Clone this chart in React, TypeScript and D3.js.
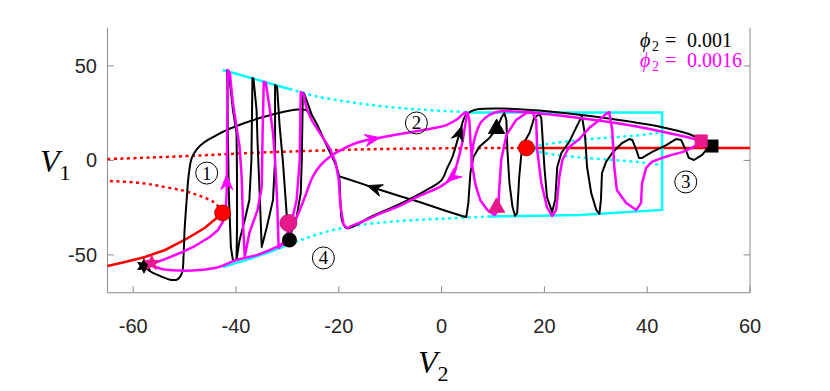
import React from "react";
import * as d3 from "d3";

type P = [number, number];

const W = 830;
const H = 391;
const xDomain: P = [-65, 60];
const yDomain: P = [-70, 70];
const xTicks = [-60, -40, -20, 0, 20, 40, 60];
const yTicks = [-50, 0, 50];

// equilibrium branches (red)
const redStableLow: P[] = [[-65, -55.9], [-61.6, -53.8], [-57.7, -51.1], [-53.8, -47.4], [-50.0, -42.1], [-46.1, -35.8], [-42.6, -27.8]];
const redUnstableLow: P[] = [[-42.6, -27.3], [-44.1, -22.5], [-47.0, -18.8], [-50.0, -16.2], [-53.8, -14.1], [-58.7, -11.9], [-65, -10.9]];
const redUnstableMid: P[] = [[-65, 0.7], [-56.8, 1.5], [-47.1, 2.6], [-37.4, 3.9], [-29.6, 4.7], [-19.9, 5.5], [-12.1, 6.0], [1.5, 6.4], [16.5, 6.6]];
const redStableHigh: P[] = [[16.5, 6.6], [60, 6.6]];
const bifPoints: P[] = [[-42.6, -27.8], [16.5, 6.6]];

// periodic orbit envelopes (cyan)
const cyanMaxSolid: P[] = [[-42.6, 47.8], [-37.4, 43.9], [-33.4, 40.7], [-29.6, 37.8]];
const cyanMaxDotted: P[] = [[-29.6, 37.8], [-23.7, 33.5], [-17.9, 30.9], [-12.1, 28.8], [-4.3, 26.9], [4.8, 25.6]];
const cyanMinSolid: P[] = [[-42.6, -56.4], [-37.4, -52.1], [-30.9, -45.8]];
const cyanMinDotted: P[] = [[-30.9, -45.8], [-27.6, -42.3], [-21.8, -37.3], [-16.0, -34.2], [-8.2, -32.1], [-0.4, -30.9], [9.3, -29.7]];
const cyanBox: P[] = [[5.0, 25.4], [42.9, 25.4], [42.9, -26.2], [26.8, -28.9], [9.3, -29.7]];
const cyanInnerUpper: P[] = [[16.5, 6.6], [20.0, 8.4], [26.8, 10.8], [34.5, 12.4], [39.4, 13.6], [42.8, 15.0]];
const cyanInnerLower: P[] = [[16.5, 6.6], [20.0, 3.9], [26.8, 1.6], [34.5, 0.0], [39.4, -1.2], [42.8, -2.5]];

// phi2 = 0.001 trajectory (black)
const blackLoop: P[] = [[-57.9, -55.9], [-56.8, -58.5], [-54.8, -61.1], [-52.5, -63.3], [-51.3, -62.8], [-50.5, -59.5], [-50.2, -50.1], [-50.0, -36.8], [-49.6, -20.9], [-49.2, -7.7], [-48.6, 1.3], [-47.6, 6.0], [-46.1, 9.7], [-44.1, 12.9], [-41.8, 16.1], [-38.3, 19.8], [-35.4, 22.4], [-30.9, 25.6], [-28.0, 26.9], [-26.5, 26.7], [-25.3, 24.0], [-23.9, 17.1], [-22.4, 8.1], [-21.0, 0.2], [-20.0, -7.7], [-19.7, -20.9], [-19.3, -32.6], [-18.5, -35.8], [-17.0, -34.7], [-14.0, -30.2], [-8.2, -23.1], [-3.3, -16.2], [0.0, -10.4], [1.1, -4.0], [2.1, 1.8], [3.5, 14.5], [4.6, 23.5], [5.8, 26.1], [7.3, 27.2], [11.2, 27.5], [19.0, 26.4], [27.3, 24.0], [34.5, 21.4], [42.7, 17.7], [48.1, 14.0], [51.6, 9.7]];
const blackOsc: P[] = [[52.6, 7.6], [51.6, 6.0], [50.7, 2.9], [49.1, 0.2], [48.1, 1.3], [47.5, 5.5], [46.6, 10.8], [45.6, 11.3], [43.7, 8.1], [40.9, 4.4], [39.0, 1.3], [38.4, 1.3], [37.9, 5.5], [37.1, 10.8], [36.5, 11.3], [35.1, 9.2], [33.2, 3.9], [32.0, -0.8], [31.2, -6.7], [31.0, -20.9], [30.7, -28.3], [30.1, -26.2], [29.1, -17.2], [28.3, -3.5], [27.9, 13.4], [27.3, 23.5], [26.8, 20.8], [24.8, 9.7], [23.3, 3.9], [22.5, -3.5], [22.1, -20.9], [21.5, -27.3], [20.5, -19.4], [20.0, -3.5], [19.4, 22.4], [19.0, 24.6], [18.0, 22.4], [17.1, 14.5], [16.1, 9.7], [15.5, 2.9], [15.1, -8.8], [14.7, -27.8], [14.3, -29.4], [13.8, -24.7], [13.2, -12.0], [12.8, 5.5], [12.6, 21.4], [12.2, 25.1], [11.6, 22.4], [10.8, 17.1], [9.3, 11.9], [7.3, 7.1], [6.2, 1.8], [5.6, -6.7], [5.2, -22.5], [4.8, -29.9], [4.0, -29.4], [0.9, -26.8], [-4.3, -22.0], [-8.2, -18.8], [-13.1, -14.6], [-16.0, -11.9], [-18.9, -9.3], [-20.0, -8.3]];
const blackSpikes: P[] = [[-40.6, -52.7], [-41.0, -45.8], [-41.4, -17.2], [-41.6, 17.7], [-41.7, 47.8], [-41.4, 46.8], [-40.6, 26.7], [-39.9, 14.5], [-39.8, -8.8], [-39.8, -35.2], [-39.9, -52.7], [-39.3, -42.1], [-38.3, -31.5], [-37.4, -20.9], [-37.0, 0.2], [-36.8, 43.6], [-36.6, 43.1], [-36.0, 26.7], [-35.8, 9.2], [-35.4, -17.2], [-35.0, -45.8], [-34.0, -35.2], [-32.8, -20.9], [-32.4, 0.2], [-32.4, 39.9], [-32.0, 38.8], [-31.5, 17.7], [-30.9, 0.2], [-30.2, -26.2], [-29.8, -40.5], [-29.2, -37.9], [-28.2, -29.9], [-27.4, -17.2], [-27.2, 0.2], [-27.0, 35.7], [-26.7, 35.1], [-26.1, 30.4], [-25.1, 23.0]];

// phi2 = 0.0016 trajectory (magenta)
const magentaSpikes: P[] = [[-56.4, -54.8], [-53.8, -52.2], [-50.9, -49.0], [-48.0, -45.3], [-45.1, -40.5], [-43.5, -36.8], [-42.6, -32.6], [-42.0, -27.3], [-41.8, -15.7], [-41.7, 21.4], [-41.6, 47.8], [-41.2, 46.2], [-40.6, 30.4], [-39.9, 17.7], [-39.3, 7.1], [-38.9, -8.8], [-38.6, -35.2], [-38.3, -51.1], [-37.4, -38.4], [-35.8, -26.2], [-35.0, -14.1], [-34.8, 17.7], [-34.6, 41.5], [-34.2, 41.0], [-33.4, 26.7], [-32.8, 14.5], [-32.4, 0.2], [-32.0, -20.9], [-31.7, -46.3], [-30.5, -42.1], [-29.2, -32.6], [-28.2, -20.9], [-27.6, 0.2], [-27.4, 36.2], [-26.8, 34.6], [-26.3, 27.7], [-25.3, 21.4], [-24.3, 17.1], [-22.8, 10.8], [-21.6, 5.5], [-20.6, -1.4], [-20.0, -10.4], [-19.7, -23.6], [-19.1, -33.6], [-18.5, -35.8]];
const magentaBottom: P[] = [[-56.4, -54.8], [-54.8, -57.2], [-50.9, -58.3], [-47.0, -58.0], [-43.7, -56.7], [-39.9, -52.7], [-36.0, -50.1], [-32.1, -45.8], [-30.1, -43.2], [-29.4, -37.9], [-28.4, -31.5], [-27.2, -23.6], [-26.3, -17.2], [-25.1, -8.8], [-23.7, -3.0], [-21.8, 1.8], [-19.9, 5.0], [-16.6, 9.2], [-13.4, 11.3], [-9.2, 13.4], [-5.7, 15.0], [-1.4, 17.1], [0.9, 18.7], [3.1, 21.9], [4.2, 24.6], [5.0, 25.6]];
const magentaReturn: P[] = [[5.0, 25.6], [4.6, 18.7], [4.0, 9.2], [3.1, -0.8], [2.1, -8.8], [0.0, -13.5], [-4.3, -18.8], [-8.2, -24.1], [-12.1, -28.3], [-15.6, -32.6], [-17.9, -35.2], [-18.5, -36.3]];
const magentaTop: P[] = [[5.8, -4.0], [6.0, 5.5], [6.6, 13.4], [7.7, 20.3], [9.3, 24.0], [11.2, 25.9], [17.1, 25.3], [26.8, 22.4], [34.5, 19.5], [42.3, 15.6], [48.1, 12.1], [50.3, 10.3]];
const magentaOsc: P[] = [[5.0, 25.6], [5.4, 21.4], [5.6, 10.8], [6.0, -3.5], [6.6, -13.0], [7.5, -20.9], [8.9, -26.2], [10.3, -28.9], [11.0, -26.7], [11.2, -15.7], [11.6, 0.2], [12.6, 13.4], [14.5, 21.4], [16.5, 25.1], [17.6, 25.6], [18.4, 21.4], [18.6, 5.5], [19.4, -12.0], [20.5, -24.7], [21.5, -29.4], [22.3, -26.2], [22.9, -8.8], [23.5, 0.2], [24.8, 7.1], [26.8, 11.3], [28.7, 17.1], [30.7, 21.4], [32.0, 24.6], [32.6, 25.6], [33.2, 16.1], [33.6, -3.5], [34.1, -15.7], [35.9, -22.5], [37.9, -26.2], [38.8, -22.5], [39.0, -12.0], [39.8, -4.0], [40.9, -0.8], [42.9, 1.3], [44.8, 2.9], [46.8, 4.4], [48.7, 6.6], [50.1, 9.2]];

// markers
const blackStar: P = [-57.9, -55.9];
const magentaStar: P = [-56.4, -54.3];
const magentaCircle: P = [-29.8, -33.1];
const blackCircle: P = [-29.6, -42.1];
const blackTriangle: P = [10.7, 17.1];
const magentaTriangle: P = [10.7, -24.6];
const magentaSquare: P = [50.5, 10.3];
const blackSquare: P = [52.6, 7.6];

// direction arrows: [from, to]
const magentaArrows: [P, P][] = [
  [[-41.8, -11.5], [-41.8, 0]],
  [[-13.4, 11.3], [-9.2, 13.4]],
  [[2.1, -8.8], [0.0, -13.5]],
];
const blackArrows: [P, P][] = [
  [[3.5, 14.5], [4.6, 23.5]],
  [[-13.1, -14.6], [-16.0, -11.9]],
];

// region labels
const regionLabels: { t: string; p: P }[] = [
  { t: "1", p: [-45.7, -6.7] },
  { t: "2", p: [-4.9, 19.8] },
  { t: "3", p: [47.5, -11.4] },
  { t: "4", p: [-23.0, -51.6] },
];

const MAG = "#ff00ff";
const MAGM = "#e8198c";

function starPath(n: number, r: number, ratio: number) {
  const pts: string[] = [];
  for (let i = 0; i < 2 * n; i++) {
    const a = -Math.PI / 2 + (i * Math.PI) / n;
    const rr = i % 2 === 0 ? r : r * ratio;
    pts.push(`${(rr * Math.cos(a)).toFixed(2)},${(rr * Math.sin(a)).toFixed(2)}`);
  }
  return "M" + pts.join("L") + "Z";
}

export default function App() {
  const x = d3.scaleLinear().domain(xDomain).range([107.5, 750]);
  const y = d3.scaleLinear().domain(yDomain).range([292.7, 28.1]);
  const line = d3
    .line<P>()
    .x((d) => x(d[0]))
    .y((d) => y(d[1]))
    .curve(d3.curveCatmullRom.alpha(0.5));
  const lin = d3
    .line<P>()
    .x((d) => x(d[0]))
    .y((d) => y(d[1]));

  const arrow = (a: P, b: P, color: string, key: string) => {
    const px = x(a[0]), py = y(a[1]);
    const dx = x(b[0]) - px, dy = y(b[1]) - py;
    const L = Math.hypot(dx, dy);
    const ux = dx / L, uy = dy / L, nx = -uy, ny = ux;
    const len = 15, hw = 6, notch = 5;
    const tip = [px + ux * len * 0.5, py + uy * len * 0.5];
    const bx = px - ux * len * 0.5, by = py - uy * len * 0.5;
    const d = `M${tip[0]},${tip[1]}L${bx + nx * hw},${by + ny * hw}L${bx + ux * notch},${by + uy * notch}L${bx - nx * hw},${by - ny * hw}Z`;
    return <path key={key} d={d} fill={color} stroke={color} strokeWidth={1} strokeLinejoin="miter" />;
  };

  const axisColor = "#8c8c8c";
  const tickFont = "'Liberation Sans', Arial, Helvetica, sans-serif";
  const serif = "'Liberation Serif', 'DejaVu Serif', serif";

  const tri = (p: P, fill: string) => {
    const cx = x(p[0]), cy = y(p[1]);
    const s = 9;
    return <path d={`M${cx},${cy - s}L${cx + s * 0.9},${cy + s * 0.6}L${cx - s * 0.9},${cy + s * 0.6}Z`} fill={fill} stroke={fill} strokeWidth={1} />;
  };

  return (
    <svg width={W} height={H} style={{ position: "absolute", left: 0, top: 0, background: "#fff" }} xmlns="http://www.w3.org/2000/svg">
      <rect width={W} height={H} fill="#fff" />
      {/* axes */}
      <g stroke={axisColor} strokeWidth={1} fill="none">
        <line x1={107.5} y1={y(70)} x2={107.5} y2={292.7} />
        <line x1={750} y1={y(70)} x2={750} y2={292.7} />
        <line x1={107.5} y1={292.7} x2={750} y2={292.7} />
        {xTicks.map((t) => (
          <line key={"xt" + t} x1={x(t)} x2={x(t)} y1={292.7} y2={286.3} />
        ))}
        {yTicks.map((t) => (
          <line key={"yl" + t} x1={107.5} x2={113.9} y1={y(t)} y2={y(t)} />
        ))}
        {yTicks.map((t) => (
          <line key={"yr" + t} x1={750} x2={743.6} y1={y(t)} y2={y(t)} />
        ))}
      </g>
      <g fill="#262626" fontFamily={tickFont} fontSize={20}>
        {xTicks.map((t) => (
          <text key={"xl" + t} x={x(t)} y={333} textAnchor="middle">
            {t < 0 ? "-" + Math.abs(t) : String(t)}
          </text>
        ))}
        {yTicks.map((t) => (
          <text key={"ylb" + t} x={97} y={y(t) + 7} textAnchor="end">
            {t < 0 ? "-" + Math.abs(t) : String(t)}
          </text>
        ))}
      </g>
      {/* axis titles */}
      <text x={40} y={172} fontFamily={serif} fontSize={32} fill="#000">
        <tspan fontStyle="italic">V</tspan>
        <tspan fontSize={22} dy={8}>1</tspan>
      </text>
      <text x={418} y={373} fontFamily={serif} fontSize={32} fill="#000">
        <tspan fontStyle="italic">V</tspan>
        <tspan fontSize={22} dy={8}>2</tspan>
      </text>

      {/* equilibria */}
      <path d={lin(redStableLow)!} fill="none" stroke="#ff0000" strokeWidth={2.5} />
      <path d={line(redUnstableLow)!} fill="none" stroke="#ff0000" strokeWidth={2.5} strokeDasharray="3 3.5" />
      <path d={line(redUnstableMid)!} fill="none" stroke="#ff0000" strokeWidth={2.5} strokeDasharray="3 3.5" />
      <path d={lin(redStableHigh)!} fill="none" stroke="#ff0000" strokeWidth={2.5} />

      {/* periodic orbits */}
      <path d={line(cyanMaxSolid)!} fill="none" stroke="#00ffff" strokeWidth={2.5} />
      <path d={line(cyanMaxDotted)!} fill="none" stroke="#00ffff" strokeWidth={2.5} strokeDasharray="3 3.5" />
      <path d={line(cyanMinSolid)!} fill="none" stroke="#00ffff" strokeWidth={2.5} />
      <path d={line(cyanMinDotted)!} fill="none" stroke="#00ffff" strokeWidth={2.5} strokeDasharray="3 3.5" />
      <path d={lin(cyanBox)!} fill="none" stroke="#00ffff" strokeWidth={2.5} />
      <path d={line(cyanInnerUpper)!} fill="none" stroke="#00ffff" strokeWidth={2.5} strokeDasharray="3 3.5" />
      <path d={line(cyanInnerLower)!} fill="none" stroke="#00ffff" strokeWidth={2.5} strokeDasharray="3 3.5" />

      {/* black trajectory */}
      <g fill="none" stroke="#000" strokeWidth={2} strokeLinejoin="round">
        <path d={line(blackLoop)!} />
        <path d={lin(blackOsc)!} />
        <path d={lin(blackSpikes)!} />
      </g>
      {/* magenta trajectory */}
      <g fill="none" stroke={MAG} strokeWidth={2.5} strokeLinejoin="round">
        <path d={lin(magentaSpikes)!} />
        <path d={line(magentaBottom)!} />
        <path d={line(magentaReturn)!} />
        <path d={line(magentaTop)!} />
        <path d={lin(magentaOsc)!} />
      </g>

      {blackArrows.map((a, i) => arrow(a[0], a[1], "#000", "ba" + i))}
      {magentaArrows.map((a, i) => arrow(a[0], a[1], MAG, "ma" + i))}

      {/* markers */}
      {bifPoints.map((p, i) => (
        <circle key={"bp" + i} cx={x(p[0])} cy={y(p[1])} r={8} fill="#ff0000" stroke="#a00000" strokeWidth={0.8} />
      ))}
      <circle cx={x(blackCircle[0])} cy={y(blackCircle[1])} r={7.5} fill="#000" />
      <circle cx={x(magentaCircle[0])} cy={y(magentaCircle[1])} r={8.5} fill={MAGM} stroke="#b0106a" strokeWidth={0.8} />
      {tri(blackTriangle, "#000")}
      {tri(magentaTriangle, MAGM)}
      <rect x={x(blackSquare[0]) - 6.5} y={y(blackSquare[1]) - 6.5} width={13} height={13} fill="#000" />
      <rect x={x(magentaSquare[0]) - 6.5} y={y(magentaSquare[1]) - 6.5} width={13} height={13} fill={MAGM} />
      <path d={starPath(6, 8, 0.55)} transform={`translate(${x(blackStar[0])},${y(blackStar[1])})`} fill="#000" />
      <path d={starPath(5, 9, 0.45)} transform={`translate(${x(magentaStar[0])},${y(magentaStar[1])})`} fill={MAGM} />

      {/* region labels */}
      {regionLabels.map((l) => (
        <g key={"rl" + l.t} transform={`translate(${x(l.p[0])},${y(l.p[1])})`}>
          <circle r={11} fill="none" stroke="#000" strokeWidth={1} />
          <text y={6.5} textAnchor="middle" fontFamily={serif} fontSize={19} fill="#000">
            {l.t}
          </text>
        </g>
      ))}

      {/* legend */}
      <text y={47} fontFamily={serif} fontSize={20} fill="#000">
        <tspan x={640} fontStyle="italic">ϕ</tspan>
        <tspan x={652} dy={4} fontSize={14}>2</tspan>
        <tspan x={665} dy={-4}>=</tspan>
        <tspan x={687}>0.001</tspan>
      </text>
      <text y={67} fontFamily={serif} fontSize={20} fill={MAG}>
        <tspan x={640} fontStyle="italic">ϕ</tspan>
        <tspan x={652} dy={4} fontSize={14}>2</tspan>
        <tspan x={665} dy={-4}>=</tspan>
        <tspan x={687}>0.0016</tspan>
      </text>
    </svg>
  );
}
